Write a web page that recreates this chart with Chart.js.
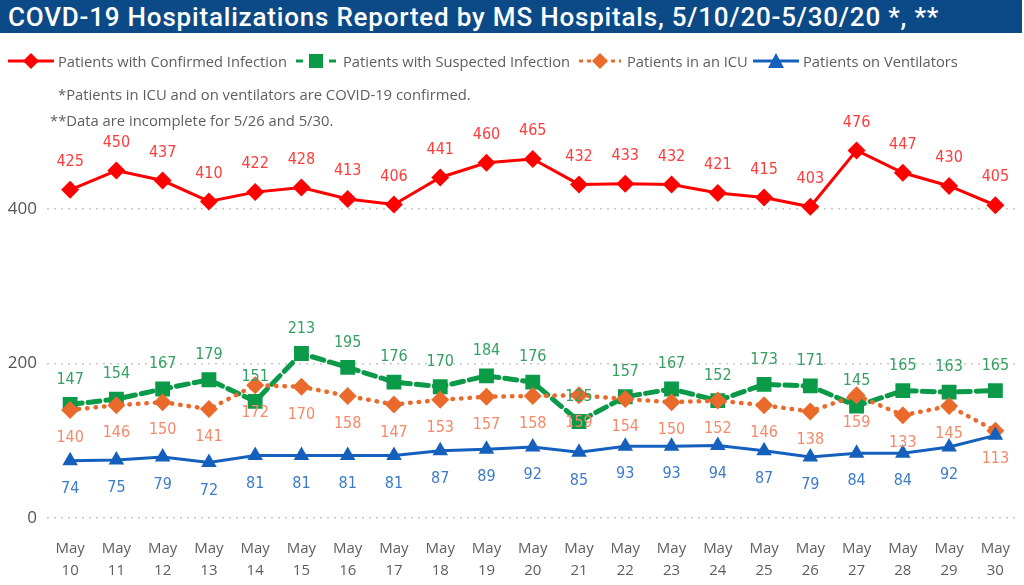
<!DOCTYPE html>
<html><head><meta charset="utf-8">
<script src="https://cdn.jsdelivr.net/npm/chart.js@4.4.1/dist/chart.umd.min.js"></script>
<style>
body{margin:0;width:1024px;height:585px;position:relative;overflow:hidden;background:#fff;font-family:"Open Sans",sans-serif}
canvas{position:absolute;left:0;top:0}
#title{position:absolute;left:0;top:0;width:1022px;height:33px;background:#0B4A86;color:#fff;font:500 26px Roboto,sans-serif;letter-spacing:0.8px;line-height:34px;padding-left:8px;box-sizing:border-box;white-space:nowrap}
.li{position:absolute;top:50px;height:22px;display:flex;align-items:center;font-size:14.7px;color:#605E5C;white-space:nowrap}
.li svg{margin-right:4px}
.note{position:absolute;font-size:14.8px;color:#605E5C;white-space:nowrap}
</style>
</head><body>
<canvas id="c" width="1029" height="585"></canvas>
<div id="title"></div>
<div id="legend"></div>
<div id="notes"></div>
<script>
const titleText = 'COVD-19 Hospitalizations Reported by MS Hospitals, 5/10/20-5/30/20 *, **';
const days = ['10','11','12','13','14','15','16','17','18','19','20','21','22','23','24','25','26','27','28','29','30'];
const confirmed = [425,450,437,410,422,428,413,406,441,460,465,432,433,432,421,415,403,476,447,430,405];
const suspected = [147,154,167,179,151,213,195,176,170,184,176,125,157,167,152,173,171,145,165,163,165];
const icu = [140,146,150,141,172,170,158,147,153,157,158,159,154,150,152,146,138,159,133,145,113];
const ventilators = [74,75,79,72,81,81,81,81,87,89,92,85,93,93,94,87,79,84,84,92,107];
const ventUnlabeled = [20];
const seriesNames = ['Patients with Confirmed Infection','Patients with Suspected Infection','Patients in an ICU','Patients on Ventilators'];
const yTickValues = [0,200,400];
const notes = ['*Patients in ICU and on ventilators are COVID-19 confirmed.','**Data are incomplete for 5/26 and 5/30.'];

document.getElementById('title').textContent = titleText;

const styles = [
  {color:'#FF0000', label:'#FF3C3C', point:'rectRot', r:9, width:3, dash:[], cap:'butt', pos:'above'},
  {color:'#0A9A48', label:'#34A062', point:'rect', r:10.5, width:5, dash:[12,6], cap:'round', pos:'above'},
  {color:'#EA6A2C', label:'#F5896A', point:'rectRot', r:9, width:4.5, dash:[0.5,8], cap:'round', pos:'below'},
  {color:'#1560BD', label:'#3D7BC8', point:'triangle', r:9, width:3, dash:[], cap:'butt', pos:'below'}
];
const seriesData = [confirmed, suspected, icu, ventilators];

const legendX = [8, 293, 577, 753];
const legend = document.getElementById('legend');
seriesNames.forEach((n,i)=>{
  const s = styles[i];
  const d = document.createElement('div'); d.className='li'; d.style.left = legendX[i]+'px';
  let line;
  if (i===1) line = '<line x1="3" y1="11" x2="10" y2="11" stroke="'+s.color+'" stroke-width="3"/><line x1="36" y1="11" x2="43" y2="11" stroke="'+s.color+'" stroke-width="3"/><rect x="16" y="4" width="14" height="14" fill="'+s.color+'"/>';
  else if (i===2) line = '<line x1="2" y1="11" x2="44" y2="11" stroke="'+s.color+'" stroke-width="3" stroke-dasharray="4 4"/><polygon points="23,3 31,11 23,19 15,11" fill="'+s.color+'"/>';
  else if (i===0) line = '<line x1="0" y1="11" x2="46" y2="11" stroke="'+s.color+'" stroke-width="3"/><polygon points="23,3 31,11 23,19 15,11" fill="'+s.color+'"/>';
  else line = '<line x1="0" y1="11" x2="46" y2="11" stroke="'+s.color+'" stroke-width="3"/><polygon points="23,3 31,18 15,18" fill="'+s.color+'"/>';
  d.innerHTML = '<svg width="46" height="22">'+line+'</svg><span></span>';
  d.querySelector('span').textContent = n;
  legend.appendChild(d);
});
const notesEl = document.getElementById('notes');
[[58,84],[50,110]].forEach((p,i)=>{
  const d=document.createElement('div'); d.className='note'; d.style.left=p[0]+'px'; d.style.top=p[1]+'px'; d.textContent=notes[i]; notesEl.appendChild(d);
});

const labelPlugin = {
  id:'vlabels',
  afterDatasetsDraw(chart){
    const ctx = chart.ctx;
    ctx.save();
    ctx.font = '16px "Liberation Sans Narrow","DejaVu Sans Condensed",sans-serif';
    ctx.textAlign='center'; ctx.textBaseline='middle';
    chart.data.datasets.forEach((ds,i)=>{
      const meta = chart.getDatasetMeta(i);
      const s = styles[i];
      meta.data.forEach((el,j)=>{
        if (i===3 && ventUnlabeled.includes(j)) return;
        const off = s.pos==='above' ? (i===0?-28:-25) : 28;
        ctx.fillStyle = s.label;
        ctx.fillText(String(ds.data[j]), el.x, el.y+off);
      });
    });
    ctx.restore();
  }
};

new Chart(document.getElementById('c'), {
  type:'line',
  data:{
    labels: days.map(d=>['May', d]),
    datasets: seriesData.map((arr,i)=>({
      label: seriesNames[i],
      data: arr,
      borderColor: styles[i].color,
      backgroundColor: styles[i].color,
      borderWidth: styles[i].width,
      borderDash: styles[i].dash,
      borderCapStyle: styles[i].cap,
      pointStyle: styles[i].point,
      pointRadius: styles[i].r,
      pointHoverRadius: styles[i].r,
      pointBorderWidth: 0,
      tension: 0,
      order: 3-i
    }))
  },
  options:{
    responsive:false, animation:false,
    layout:{padding:{top:101,left:0,right:1,bottom:0}},
    plugins:{legend:{display:false}, tooltip:{enabled:false}, title:{display:false}},
    scales:{
      x:{
        offset:true,
        grid:{display:false, drawTicks:false},
        border:{display:false},
        ticks:{color:'#605E5C', font:{family:'"Open Sans",sans-serif', size:15, lineHeight:1.45}, padding:20, maxRotation:0, autoSkip:false},
        afterFit(s){ s.height = 67; s.paddingLeft = 0; s.paddingRight = 0; }
      },
      y:{
        min:0, max:540,
        afterBuildTicks(s){ s.ticks = yTickValues.map(v=>({value:v})); },
        grid:{color:'#C8C8C8', lineWidth:1.5, drawTicks:false},
        border:{display:false, dash:[2,5]},
        ticks:{color:'#555555', font:{family:'"Open Sans",sans-serif', size:17}, padding:10},
        afterFit(s){ s.width = 47; s.paddingTop = 0; s.paddingBottom = 0; }
      }
    }
  },
  plugins:[labelPlugin]
});
</script>
</body></html>
